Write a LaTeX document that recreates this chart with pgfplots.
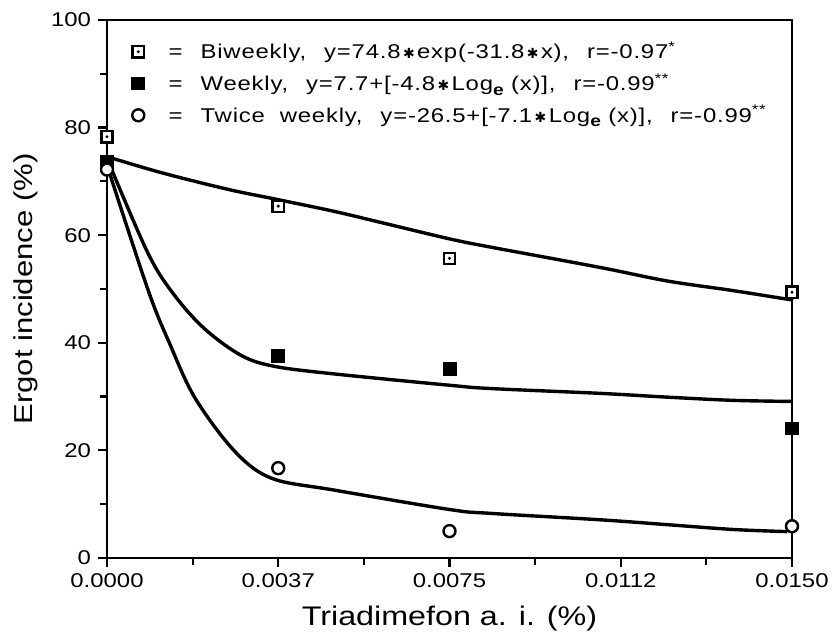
\documentclass[border=0pt]{standalone}
\usepackage{fontspec}
\setmainfont{Liberation Sans}[FakeStretch=1.2]
\newfontfamily\legfont{Liberation Sans}[FakeStretch=1.2, LetterSpace=4]
\newfontfamily\djv{DejaVu Sans}
\usepackage{pgfplots}
\pgfplotsset{compat=1.18}

% open square with a dot in the middle
\pgfdeclareplotmark{sqdot}{%
  \pgfpathrectangle{\pgfpoint{-\pgfplotmarksize}{-\pgfplotmarksize}}{\pgfpoint{2\pgfplotmarksize}{2\pgfplotmarksize}}%
  \pgfsetfillcolor{white}\pgfusepathqfillstroke
  \pgfpathcircle{\pgfpointorigin}{0.3\pgfplotmarksize}%
  \pgfsetfillcolor{black}\pgfusepathqfill}

\newcommand{\st}{\hspace{1.2bp}{\djv\fontsize{7}{8}\selectfont ✱}\hspace{1.2bp}}
\newcommand{\g}{\hspace{9bp}}
\newcommand{\loge}{Log\raisebox{-0.45ex}{\fontsize{8}{8}\selectfont\bfseries e}}

\begin{document}
\begin{tikzpicture}
\begin{axis}[
  name=ax,
  scale only axis,
  width=342.5bp, height=269bp,
  xmin=0, xmax=0.015, ymin=0, ymax=100,
  clip=false,
  axis line style={line width=1.3bp},
  xtick={0,0.00375,0.0075,0.01125,0.015},
  xticklabels={0.0000,0.0037,0.0075,0.0112,0.0150},
  scaled x ticks=false,
  ytick={0,20,40,60,80,100},
  minor x tick num=1, minor y tick num=1,
  xtick pos=bottom, ytick pos=left,
  tick align=outside,
  major tick length=4.5bp, minor tick length=3.5bp,
  every tick/.style={black, line width=1.1bp},
  /pgf/number format/assume math mode=true,
  ticklabel style={font=\fontsize{10}{11}\selectfont},
  xlabel={Triadimefon a. i. (\%)},
  ylabel={Ergot incidence (\%)},
  xlabel style={font=\fontsize{13.5}{14}\selectfont, yshift=-2bp},
  ylabel style={font=\fontsize{13}{14}\selectfont},
  legend style={draw=none, fill=none, at={(rel axis cs:0.027,0.975)}, anchor=north west,
    font=\legfont\fontsize{10}{11}\selectfont, row sep=2bp},
  legend cell align=left,
]
% fitted curves
\addplot[black, line width=1.7bp, smooth, tension=0.55, forget plot] coordinates {
(0,74.6) (0.0012,71.6) (0.00266,68.5) (0.00375,66.6) (0.00499,64.4) (0.00598,62.4)
(0.00751,59.3) (0.00839,57.8) (0.0108,54.0) (0.01226,51.5) (0.01371,49.7) (0.0149,48.1) (0.015,48.0)
};
\addplot[black, line width=1.7bp, smooth, tension=0.55, forget plot] coordinates {
(0,74.3) (0.0009,56.6) (0.00149,48.7) (0.00215,42.5) (0.00295,37.6)
(0.00368,35.6) (0.00499,34.2) (0.00751,32.1) (0.00839,31.5) (0.0108,30.6)
(0.01226,29.9) (0.01371,29.3) (0.015,29.1)
};
\addplot[black, line width=1.7bp, smooth, tension=0.55, forget plot] coordinates {
(0,73.0) (0.0009,49.8) (0.00138,39.7) (0.00193,29.7) (0.0028,19.8)
(0.00361,14.8) (0.00499,12.6) (0.00751,9.0) (0.00839,8.3) (0.0108,7.1)
(0.01226,6.2) (0.01371,5.3) (0.0149,4.9)
};
% observed points
\addplot[only marks, mark=sqdot, mark size=2.8bp, mark options={line width=1.2bp}, black] coordinates {
(0,78.3) (0.00375,65.4) (0.0075,55.7) (0.015,49.4)
};
\addlegendentry{\hspace{10bp}=\g Biweekly,\g y=74.8\st exp(-31.8\st x),\g r=-0.97\textsuperscript{*}}
\addplot[only marks, mark=square*, mark size=3.2bp, black] coordinates {
(0,73.6) (0.00375,37.6) (0.0075,35.2) (0.015,24.1)
};
\addlegendentry{\hspace{10bp}=\g Weekly,\g y=7.7+[-4.8\st \loge\ (x)],\g r=-0.99\textsuperscript{**}}
\addplot[only marks, mark=*, mark size=3bp, mark options={fill=white, line width=1.2bp}, black] coordinates {
(0,72.2) (0.00375,16.7) (0.0075,5.0) (0.015,5.9)
};
\addlegendentry{\hspace{10bp}=\g Twice\ \ weekly,\g y=-26.5+[-7.1\st \loge\ (x)],\g r=-0.99\textsuperscript{**}}
\end{axis}
\path[use as bounding box] ([shift={(-53.5bp,-38.5bp)}]ax.south west) rectangle ([shift={(22.5bp,10bp)}]ax.north east);
\end{tikzpicture}
\end{document}
